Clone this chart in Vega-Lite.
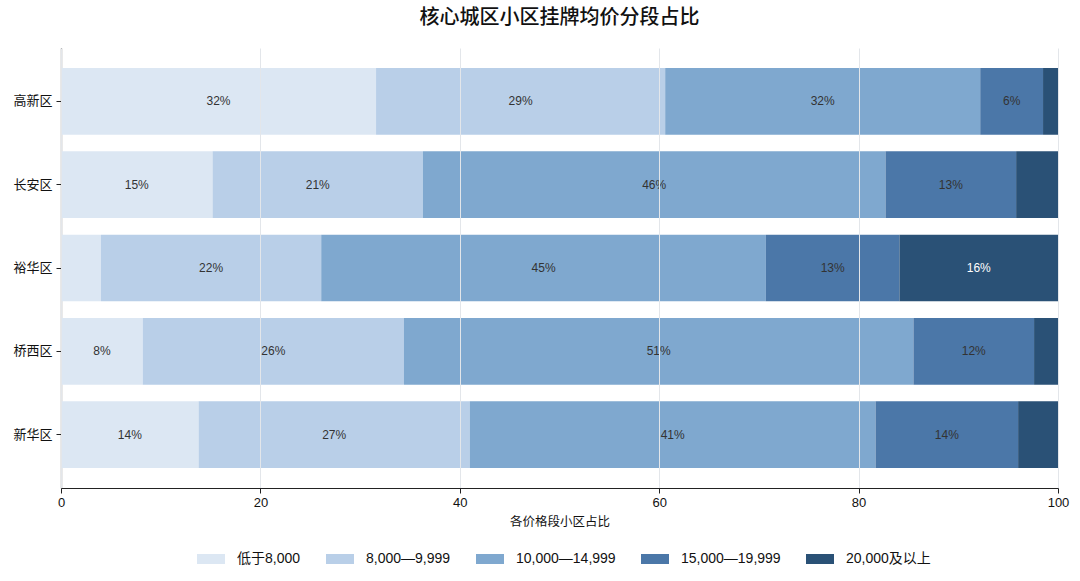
{
  "$schema": "https://vega.github.io/schema/vega-lite/v6.json",
  "width": 997,
  "height": 440,
  "padding": {"left": 12, "top": 8, "right": 22, "bottom": 5},
  "background": "white",
  "title": {
    "text": "核心城区小区挂牌均价分段占比",
    "fontSize": 20,
    "font": "Noto Sans CJK SC",
    "fontWeight": 500,
    "color": "#111111",
    "offset": 20
  },
  "data": {
    "values": [
      {"district": "高新区", "bracket": "低于8,000", "value": 31.6},
      {"district": "高新区", "bracket": "8,000—9,999", "value": 29.0},
      {"district": "高新区", "bracket": "10,000—14,999", "value": 31.6},
      {"district": "高新区", "bracket": "15,000—19,999", "value": 6.3},
      {"district": "高新区", "bracket": "20,000及以上", "value": 1.5},
      {"district": "长安区", "bracket": "低于8,000", "value": 15.2},
      {"district": "长安区", "bracket": "8,000—9,999", "value": 21.1},
      {"district": "长安区", "bracket": "10,000—14,999", "value": 46.4},
      {"district": "长安区", "bracket": "15,000—19,999", "value": 13.1},
      {"district": "长安区", "bracket": "20,000及以上", "value": 4.2},
      {"district": "裕华区", "bracket": "低于8,000", "value": 4.0},
      {"district": "裕华区", "bracket": "8,000—9,999", "value": 22.1},
      {"district": "裕华区", "bracket": "10,000—14,999", "value": 44.6},
      {"district": "裕华区", "bracket": "15,000—19,999", "value": 13.4},
      {"district": "裕华区", "bracket": "20,000及以上", "value": 15.9},
      {"district": "桥西区", "bracket": "低于8,000", "value": 8.2},
      {"district": "桥西区", "bracket": "8,000—9,999", "value": 26.2},
      {"district": "桥西区", "bracket": "10,000—14,999", "value": 51.1},
      {"district": "桥西区", "bracket": "15,000—19,999", "value": 12.1},
      {"district": "桥西区", "bracket": "20,000及以上", "value": 2.4},
      {"district": "新华区", "bracket": "低于8,000", "value": 13.8},
      {"district": "新华区", "bracket": "8,000—9,999", "value": 27.2},
      {"district": "新华区", "bracket": "10,000—14,999", "value": 40.7},
      {"district": "新华区", "bracket": "15,000—19,999", "value": 14.3},
      {"district": "新华区", "bracket": "20,000及以上", "value": 4.0}
    ]
  },
  "transform": [
    {"calculate": "indexof(['低于8,000','8,000—9,999','10,000—14,999','15,000—19,999','20,000及以上'], datum.bracket)", "as": "k"},
    {"stack": "value", "groupby": ["district"], "sort": [{"field": "k", "order": "ascending"}], "as": ["x0", "x1"]},
    {"calculate": "(datum.x0 + datum.x1) / 2", "as": "mid"},
    {"calculate": "format(datum.value, '.0f') + '%'", "as": "label"}
  ],
  "encoding": {
    "y": {
      "field": "district",
      "type": "nominal",
      "sort": ["高新区", "长安区", "裕华区", "桥西区", "新华区"],
      "title": null,
      "scale": {"paddingInner": 0.2, "paddingOuter": 0.24},
      "axis": {
        "labelFont": "Noto Sans CJK SC",
        "labelFontSize": 13,
        "labelColor": "#111111",
        "domainColor": "#222222",
        "tickColor": "#222222",
        "tickSize": 5,
        "labelPadding": 4,
        "grid": false
      }
    }
  },
  "layer": [
    {
      "mark": {"type": "bar"},
      "encoding": {
        "x": {
          "field": "x0",
          "type": "quantitative",
          "scale": {"domain": [0, 100], "nice": false},
          "title": "各价格段小区占比",
          "axis": {
            "values": [0, 20, 40, 60, 80, 100],
            "labelFlush": false,
            "labelFont": "Liberation Sans",
            "labelFontSize": 13,
            "labelColor": "#111111",
            "labelPadding": 3,
            "titleFont": "Noto Sans CJK SC",
            "titleFontSize": 12.5,
            "titleFontWeight": "normal",
            "titleColor": "#111111",
            "titlePadding": 6,
            "domainColor": "#222222",
            "tickColor": "#222222",
            "tickSize": 5,
            "grid": true,
            "gridColor": "#e3e6ea",
            "gridWidth": 1,
            "zindex": 1
          }
        },
        "x2": {"field": "x1"},
        "color": {
          "field": "bracket",
          "type": "nominal",
          "title": null,
          "scale": {
            "domain": ["低于8,000", "8,000—9,999", "10,000—14,999", "15,000—19,999", "20,000及以上"],
            "range": ["#dce7f3", "#b9cfe8", "#7fa8cf", "#4b77a8", "#2a5176"]
          },
          "legend": {
            "orient": "none",
            "legendX": 140,
            "legendY": 501,
            "direction": "horizontal",
            "symbolType": "M-1.4,-0.5H1.4V0.5H-1.4Z",
            "symbolSize": 400,
            "symbolStrokeWidth": 0,
            "labelFont": "Liberation Sans, Noto Sans CJK SC",
            "labelFontSize": 14,
            "labelColor": "#111111",
            "columnPadding": 25,
            "labelOffset": 16
          }
        }
      }
    },
    {
      "transform": [{"filter": "datum.value >= 5"}],
      "mark": {"type": "text", "font": "Liberation Sans", "fontSize": 12},
      "encoding": {
        "x": {"field": "mid", "type": "quantitative"},
        "text": {"field": "label"},
        "color": {
          "condition": {"test": "datum.k == 4", "value": "white"},
          "value": "#333333"
        }
      }
    }
  ],
  "config": {
    "view": {"stroke": null},
    "axis": {"domainWidth": 1.2}
  }
}
